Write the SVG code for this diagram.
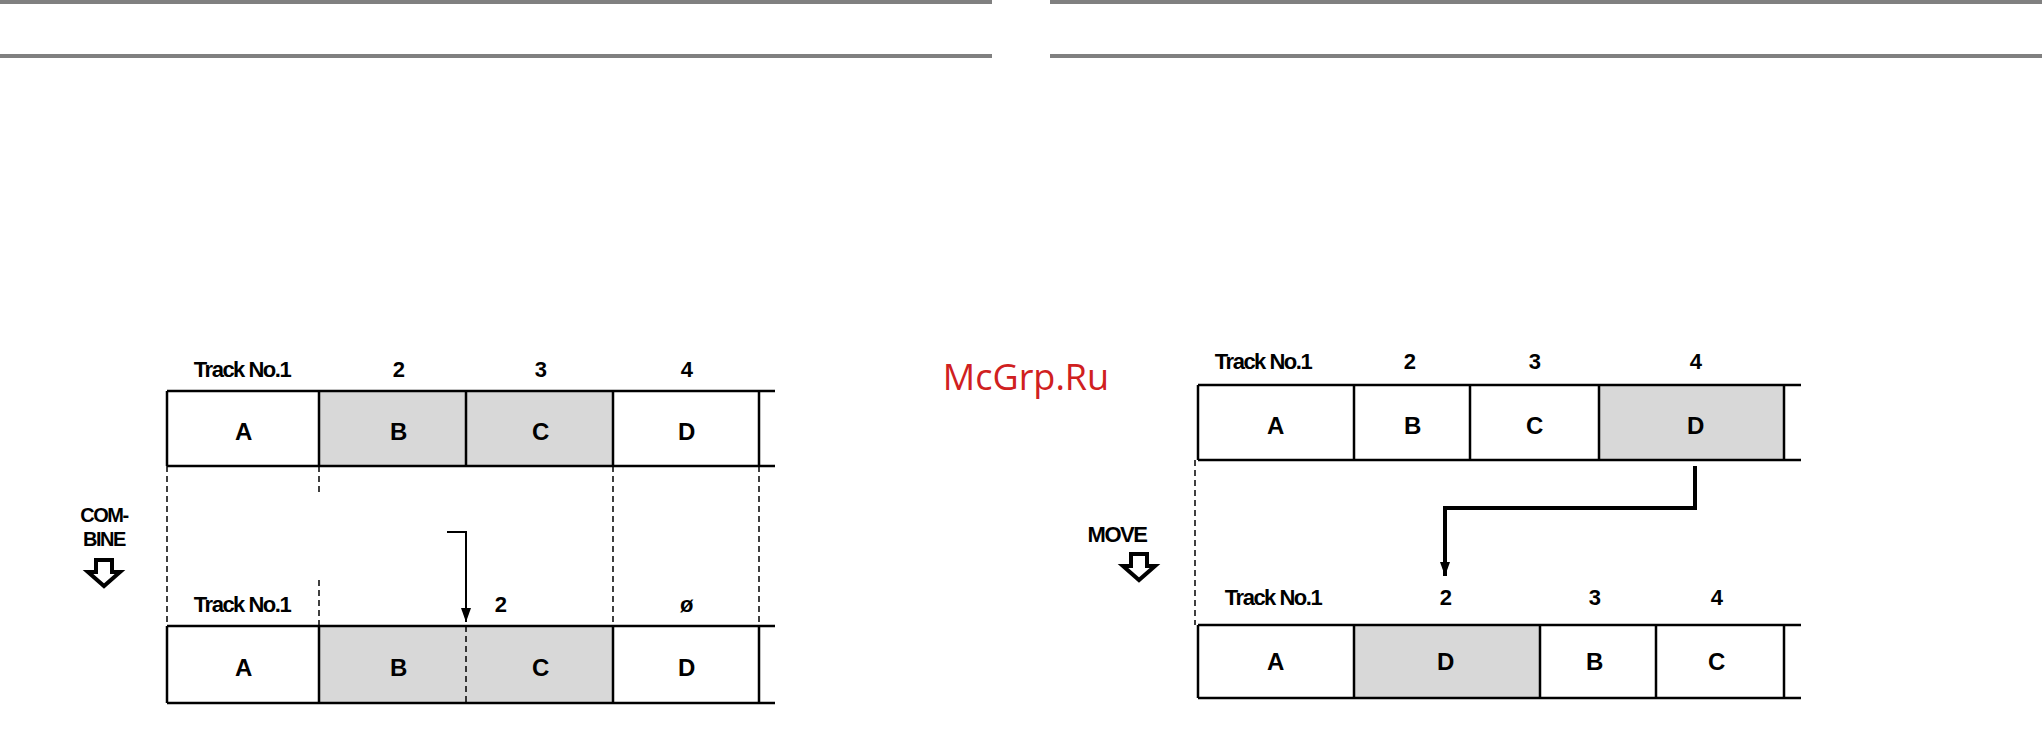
<svg xmlns="http://www.w3.org/2000/svg" width="2042" height="753" viewBox="0 0 2042 753">
<style>
.rule{stroke:#808080;stroke-width:4}
.g{fill:#d8d8d8}
.ln{stroke:#000;stroke-width:2.5;fill:none}
.dash{stroke:#000;stroke-width:1.5;stroke-dasharray:6,4;fill:none}
.t{font-family:"Liberation Sans",Arial,sans-serif;font-weight:bold;font-size:24px;fill:#000;text-anchor:middle;letter-spacing:-1.5px}
.h{font-size:22px}
.wm{font-family:"Open Sans","DejaVu Sans",sans-serif;font-size:36px;fill:#d02020;text-anchor:middle}
.hollow{fill:#fff;stroke:#000;stroke-width:4;stroke-linejoin:miter}
</style>
<defs>
<marker id="ah" markerWidth="14" markerHeight="10" refX="14" refY="5" orient="auto" markerUnits="userSpaceOnUse" viewBox="0 0 14 10"><path d="M0,0 L14,5 L0,10 Z" fill="#000"/></marker>
</defs>
<g id="rules">
<line class="rule" x1="0" y1="2" x2="992" y2="2"/><line class="rule" x1="1050" y1="2" x2="2042" y2="2"/>
<line class="rule" x1="0" y1="56" x2="992" y2="56"/><line class="rule" x1="1050" y1="56" x2="2042" y2="56"/>
</g>
<text class="wm" x="1026" y="390">McGrp.Ru</text>
<g id="left-top">
<rect class="g" x="319" y="391" width="294" height="75"/>
<path class="ln" d="M167,391 H775 M167,466 H775 M167,391 V466 M319,391 V466 M466,391 V466 M613,391 V466 M759,391 V466"/>
<text class="t h" x="242" y="377">Track No.1</text><text class="t h" x="398" y="377">2</text><text class="t h" x="540" y="377">3</text><text class="t h" x="686" y="377">4</text>
<text class="t" x="243" y="440">A</text><text class="t" x="398" y="440">B</text><text class="t" x="540" y="440">C</text><text class="t" x="686" y="440">D</text>
</g>
<g id="left-bottom">
<rect class="g" x="319" y="626" width="294" height="77"/>
<path class="ln" d="M167,626 H775 M167,703 H775 M167,626 V703 M319,626 V703 M613,626 V703 M759,626 V703"/>
<text class="t h" x="242" y="612">Track No.1</text><text class="t h" x="500" y="612">2</text><text class="t h" x="686" y="612">ø</text>
<text class="t" x="243" y="676">A</text><text class="t" x="398" y="676">B</text><text class="t" x="540" y="676">C</text><text class="t" x="686" y="676">D</text>
</g>
<g id="combine">
<text class="t h" x="104" y="522" style="font-size:20px">COM-</text><text class="t h" x="104" y="546" style="font-size:20px">BINE</text>
<path class="hollow" d="M104,560 V572 H96 L112,586 L128,572 H120 V560 Z" transform="translate(-8,0)"/>
</g>
<g id="right-top">
<rect class="g" x="1599" y="385" width="185" height="75"/>
<path class="ln" d="M1198,385 H1801 M1198,460 H1801 M1198,385 V460 M1354,385 V460 M1470,385 V460 M1599,385 V460 M1784,385 V460"/>
<text class="t h" x="1263" y="369">Track No.1</text><text class="t h" x="1409" y="369">2</text><text class="t h" x="1534" y="369">3</text><text class="t h" x="1695" y="369">4</text>
<text class="t" x="1275" y="434">A</text><text class="t" x="1412" y="434">B</text><text class="t" x="1534" y="434">C</text><text class="t" x="1695" y="434">D</text>
</g>
<g id="right-bottom">
<rect class="g" x="1354" y="625" width="186" height="73"/>
<path class="ln" d="M1198,625 H1801 M1198,698 H1801 M1198,625 V698 M1354,625 V698 M1540,625 V698 M1656,625 V698 M1784,625 V698"/>
<text class="t h" x="1273" y="605">Track No.1</text><text class="t h" x="1445" y="605">2</text><text class="t h" x="1594" y="605">3</text><text class="t h" x="1716" y="605">4</text>
<text class="t" x="1275" y="670">A</text><text class="t" x="1445" y="670">D</text><text class="t" x="1594" y="670">B</text><text class="t" x="1716" y="670">C</text>
</g>
<g id="move">
<text class="t h" x="1117" y="542">MOVE</text>
<path class="hollow" d="M1131,554 V566 H1123 L1139,580 L1155,566 H1147 V554 Z"/>
</g>
<g id="connectors">
<path class="dash" d="M167,466 V626 M319,466 V492 M319,580 V626 M613,466 V626 M759,466 V626 M466,626 V703"/>
<path class="dash" d="M1195,460 V625"/>
<path class="ln" style="stroke-width:2" d="M447,532 H466 V622" marker-end="url(#ah)"/>
<path class="ln" style="stroke-width:4" d="M1695,466 V508 H1445 V576" marker-end="url(#ah)"/>
</g>
</svg>
